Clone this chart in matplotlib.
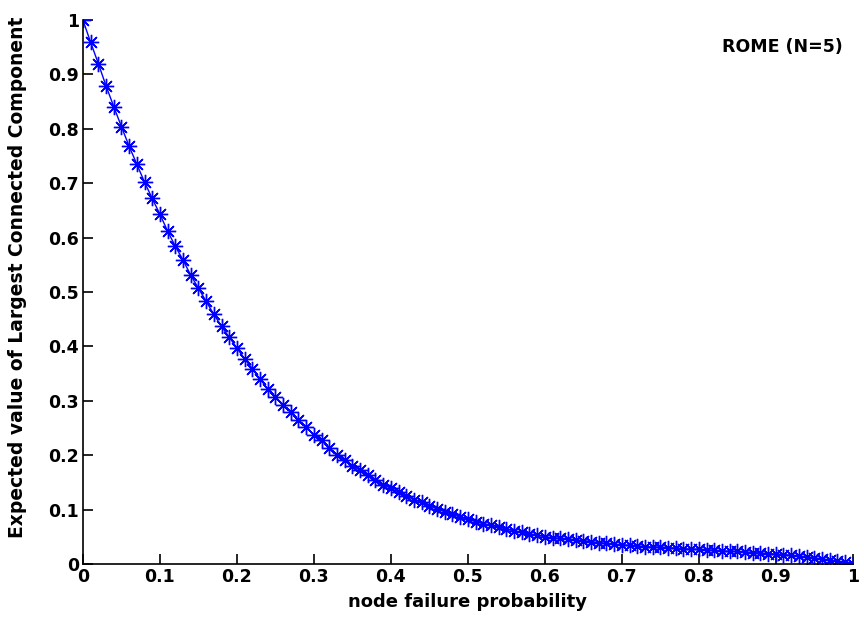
import matplotlib
matplotlib.use('Agg')
import matplotlib.pyplot as plt

# node failure probability, 0 .. 1 in steps of 0.01
p = [i / 100 for i in range(101)]

# expected value of largest connected component
elcc = [1.000, 0.959, 0.920, 0.879, 0.841, 0.804, 0.768, 0.735, 0.702, 0.672,
        0.643, 0.612, 0.584, 0.559, 0.531, 0.507, 0.483, 0.459, 0.437, 0.417,
        0.397, 0.377, 0.359, 0.340, 0.322, 0.307, 0.293, 0.279, 0.264, 0.251,
        0.238, 0.227, 0.214, 0.201, 0.192, 0.181, 0.172, 0.163, 0.155, 0.146,
        0.139, 0.132, 0.125, 0.118, 0.113, 0.107, 0.101, 0.096, 0.091, 0.086,
        0.082, 0.078, 0.074, 0.071, 0.068, 0.064, 0.061, 0.058, 0.055, 0.053,
        0.050, 0.048, 0.047, 0.046, 0.044, 0.043, 0.041, 0.039, 0.038, 0.036,
        0.035, 0.034, 0.033, 0.032, 0.031, 0.031, 0.030, 0.029, 0.028, 0.027,
        0.027, 0.026, 0.025, 0.024, 0.023, 0.023, 0.022, 0.021, 0.020, 0.019,
        0.018, 0.017, 0.016, 0.014, 0.013, 0.011, 0.009, 0.007, 0.005, 0.003,
        0.000]

xticks = [0, 0.1, 0.2, 0.3, 0.4, 0.5, 0.6, 0.7, 0.8, 0.9, 1]
xtick_labels = ['0', '0.1', '0.2', '0.3', '0.4', '0.5', '0.6', '0.7', '0.8', '0.9', '1']
ytick_labels = ['0', '0.1', '0.2', '0.3', '0.4', '0.5', '0.6', '0.7', '0.8', '0.9', '1']

plt.rcParams['font.family'] = ['DejaVu Sans']
font = {'weight': 'bold', 'size': 12.5}
label_font = {'weight': 'bold', 'size': 13}

fig = plt.figure(figsize=(8.64, 6.28), dpi=100)
ax = fig.add_axes([0.096, 0.102, 0.891, 0.866])

# matlab style '-*' : line with 8-armed asterisk markers
ax.plot(p, elcc, color='#0000ff', marker=(8, 2, 0), markersize=11, linewidth=1,
        markeredgewidth=1)

ax.set_xlim(0, 1)
ax.set_ylim(0, 1)
ax.set_xticks(xticks)
ax.set_xticklabels(xtick_labels, fontdict=font)
ax.set_yticks(xticks)
ax.set_yticklabels(ytick_labels, fontdict=font)
ax.tick_params(direction='in', length=7, width=1.2, pad=3)
ax.spines['top'].set_visible(False)
ax.spines['right'].set_visible(False)
ax.spines['left'].set_linewidth(1.2)
ax.spines['bottom'].set_linewidth(1.2)

ax.set_xlabel('node failure probability', fontdict=label_font, labelpad=5)
ax.set_ylabel('Expected value of Largest Connected Component',
              fontdict={'weight': 'bold', 'size': 13.5})
ax.yaxis.set_label_coords(-0.073, 0.527)
ax.text(0.909, 0.95, 'ROME (N=5)', transform=ax.transAxes, ha='center', va='center',
        fontdict=font)

fig.savefig('out.png', dpi=100)
